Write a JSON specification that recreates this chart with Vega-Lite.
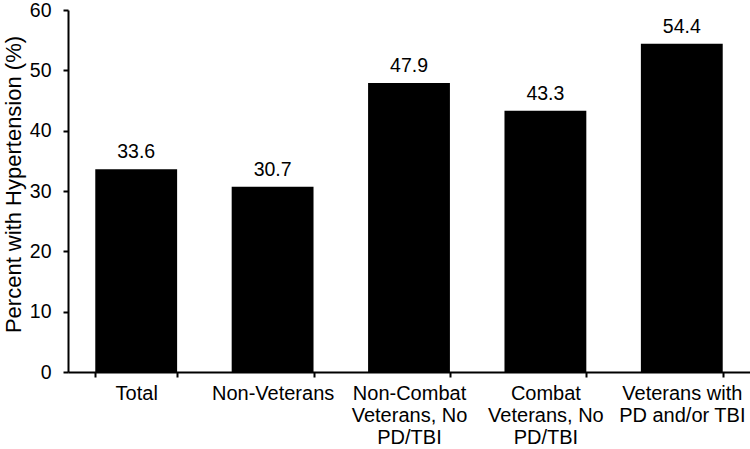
{
  "$schema": "https://vega.github.io/schema/vega-lite/v6.json",
  "autosize": "none",
  "width": 682,
  "height": 362,
  "padding": {"left": 68, "top": 10, "right": 0, "bottom": 77},
  "background": "white",
  "config": {"view": {"stroke": null}, "font": "Liberation Sans"},
  "data": {"values": [
    {"group": "Total", "pct": 33.6},
    {"group": "Non-Veterans", "pct": 30.7},
    {"group": "Non-Combat Veterans, No PD/TBI", "pct": 47.9},
    {"group": "Combat Veterans, No PD/TBI", "pct": 43.3},
    {"group": "Veterans with PD and/or TBI", "pct": 54.4}
  ]},
  "encoding": {
    "x": {"field": "group", "type": "nominal", "sort": null,
      "scale": {"paddingInner": 0.4, "paddingOuter": 0.2},
      "axis": {"title": null, "labelAngle": 0, "labelFontSize": 20, "labelColor": "black",
        "labelPadding": 6, "labelLineHeight": 22, "labelBaseline": "top",
        "domainColor": "black", "domainWidth": 2, "tickColor": "black", "tickWidth": 2, "tickSize": 5,
        "tickBand": "extent",
        "labelExpr": "datum.value == 'Non-Combat Veterans, No PD/TBI' ? ['Non-Combat', 'Veterans, No', 'PD/TBI'] : datum.value == 'Combat Veterans, No PD/TBI' ? ['Combat', 'Veterans, No', 'PD/TBI'] : datum.value == 'Veterans with PD and/or TBI' ? ['Veterans with', 'PD and/or TBI'] : datum.value"}},
    "y": {"field": "pct", "type": "quantitative",
      "scale": {"domain": [0, 60], "nice": false},
      "axis": {"title": "Percent with Hypertension (%)", "titleFontSize": 22, "titleFontWeight": "normal", "titleColor": "black",
        "titlePadding": 4, "titleY": 174, "values": [0, 10, 20, 30, 40, 50, 60], "grid": false,
        "labelFontSize": 19.5, "labelColor": "black", "labelPadding": 12,
        "domainColor": "black", "domainWidth": 2, "tickColor": "black", "tickWidth": 2, "tickSize": 5}}
  },
  "layer": [
    {"mark": {"type": "bar", "color": "black"}},
    {"mark": {"type": "text", "baseline": "bottom", "dy": -7, "fontSize": 19.5, "color": "black"},
      "encoding": {"text": {"field": "pct", "type": "quantitative", "format": ".1f"}}}
  ]
}
